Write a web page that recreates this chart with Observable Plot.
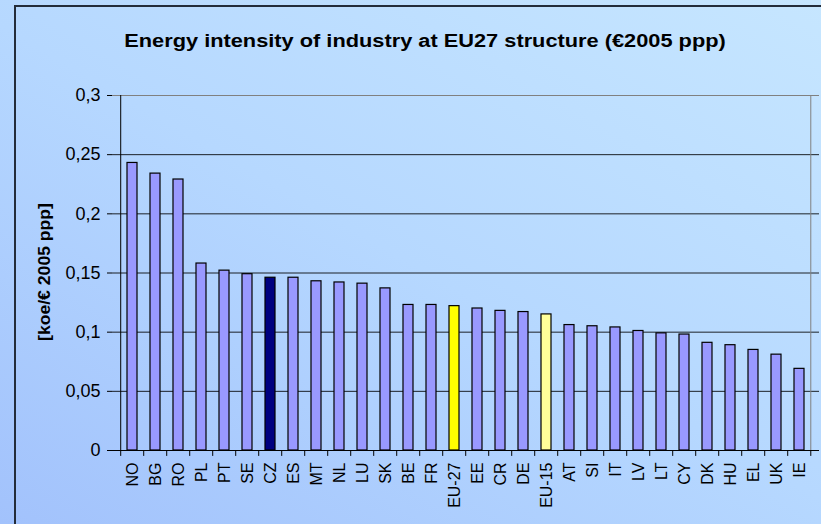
<!DOCTYPE html>
<html>
<head>
<meta charset="utf-8">
<script src="https://cdn.jsdelivr.net/npm/d3@7"></script>
<script src="https://cdn.jsdelivr.net/npm/@observablehq/plot@0.6"></script>
<style>
  html, body { margin: 0; padding: 0; }
  #wrap {
    position: relative; width: 821px; height: 524px; overflow: hidden;
    background: linear-gradient(30deg, #a2c2fc 0%, #b6d8ff 50%, #c6e6ff 100%);
    font-family: "Liberation Sans", Arial, sans-serif;
  }
  #frame {
    position: absolute; left: 14px; top: 5px; width: 900px; height: 600px;
    border-left: 2px solid #232c3a; border-top: 2px solid #232c3a;
  }
  #title {
    position: absolute; left: 0; width: 850px; top: 31px; text-align: center;
    font-weight: bold; font-size: 18px; color: #000;
    transform: scaleX(1.21); transform-origin: 425px 0;
  }
  #ylab {
    position: absolute; left: 45px; top: 272px;
    transform: translate(-50%, -50%) rotate(-90deg) scaleX(1.1);
    font-weight: bold; font-size: 16px; white-space: nowrap; color: #000;
  }
  #chart { position: absolute; left: 0; top: 0; }
  #chart svg g[aria-label="y-axis tick label"] { font-size: 18px; }
  #chart svg g[aria-label="x-axis tick label"] { font-size: 16px; }
  #chart svg text { fill: #000; }
</style>
</head>
<body>
<div id="wrap">
  <div id="frame"></div>
  <div id="title">Energy intensity of industry at EU27 structure (€2005 ppp)</div>
  <div id="ylab">[koe/€ 2005 ppp]</div>
  <div id="chart"></div>
</div>
<script>
const countries = ["NO","BG","RO","PL","PT","SE","CZ","ES","MT","NL","LU","SK","BE","FR","EU-27","EE","CR","DE","EU-15","AT","SI","IT","LV","LT","CY","DK","HU","EL","UK","IE"];
const values = [0.243,0.234,0.229,0.158,0.152,0.149,0.146,0.146,0.143,0.142,0.141,0.137,0.123,0.123,0.122,0.120,0.118,0.117,0.115,0.106,0.105,0.104,0.101,0.099,0.098,0.091,0.089,0.085,0.081,0.069];
const yTicks = [0, 0.05, 0.1, 0.15, 0.2, 0.25, 0.3];
const highlight = {"CZ": "#000080", "EU-27": "#FFFF00", "EU-15": "#FFFF99"};
const baseColor = "#9999FF";

const data = countries.map((c, i) => ({country: c, value: values[i]}));

const W = 821, H = 524, mL = 112, mR = 2, mT = 95, mB = 74;
const step = (W - mL - mR) / countries.length;
const gap = 0.57;

const chart = Plot.plot({
  width: W, height: H,
  marginLeft: mL, marginRight: mR, marginTop: mT, marginBottom: mB,
  style: {background: "transparent", fontFamily: "Liberation Sans, Arial, sans-serif", color: "#000", overflow: "visible"},
  x: {domain: countries, paddingInner: gap, paddingOuter: gap / 2, label: null},
  y: {domain: [0, 0.3], label: null},
  marks: [
    Plot.ruleY(yTicks.filter(d => d > 0 && d < 0.3), {stroke: "#000", strokeWidth: 1, strokeOpacity: 0.85}),
    Plot.ruleY([0.3], {stroke: "#808080", strokeWidth: 1}),
    Plot.ruleX([countries[countries.length - 1]], {y1: 0, y2: 0.3, stroke: "#808080", dx: step / 2 - 0.5}),
    Plot.barY(data, {x: "country", y: "value", fill: d => highlight[d.country] || baseColor, stroke: "#000", strokeWidth: 1.2}),
    Plot.ruleX(countries, {y1: 0, y2: -0.005, stroke: "#000", dx: -step / 2}),
    Plot.ruleX([countries[countries.length - 1]], {y1: 0, y2: -0.005, stroke: "#000", dx: step / 2 - 0.5}),
    Plot.ruleY([0], {stroke: "#000", strokeWidth: 1}),
    Plot.ruleX([countries[0]], {y1: 0, y2: 0.3, stroke: "#000", dx: -step / 2}),
    Plot.axisY({ticks: yTicks, tickSize: 5, tickPadding: 7, tickFormat: d => String(d).replace(".", ","), label: null}),
    Plot.axisX({tickSize: 0, tickRotate: -90, tickPadding: 12, label: null})
  ]
});
document.getElementById("chart").appendChild(chart);
</script>
</body>
</html>
